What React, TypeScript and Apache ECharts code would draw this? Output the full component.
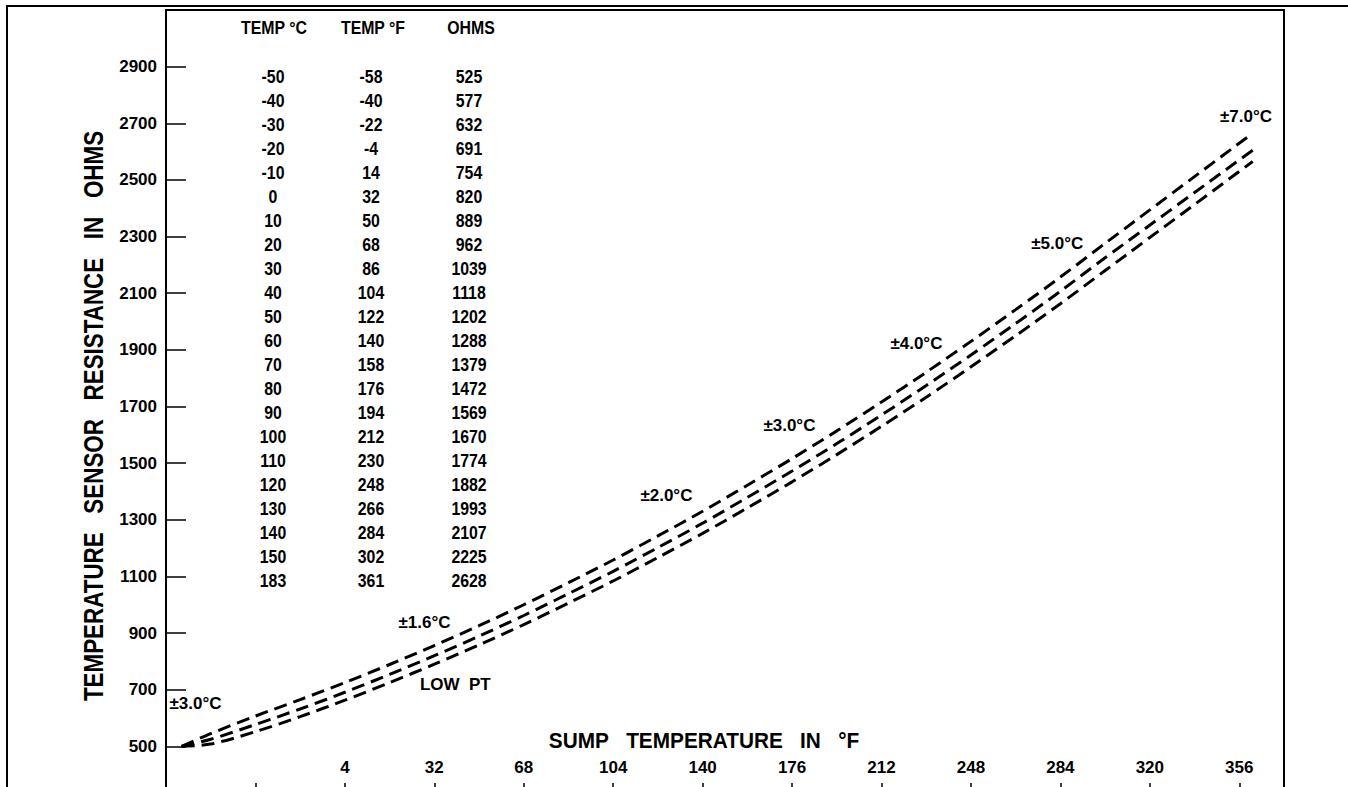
import React, { useEffect, useRef } from "react";
import * as echarts from "echarts";

// ---- table data (reference table) ----
const tableC = [-50, -40, -30, -20, -10, 0, 10, 20, 30, 40, 50, 60, 70, 80, 90, 100, 110, 120, 130, 140, 150, 183];
const tableF = [-58, -40, -22, -4, 14, 32, 50, 68, 86, 104, 122, 140, 158, 176, 194, 212, 230, 248, 266, 284, 302, 361];
const tableOhms = [525, 577, 632, 691, 754, 820, 889, 962, 1039, 1118, 1202, 1288, 1379, 1472, 1569, 1670, 1774, 1882, 1993, 2107, 2225, 2628];

// ---- curves (temperature in °C, resistance in ohms) ----
const curveC = [-56.5, -50, -40, -30, -20, -10, 0, 10, 20, 30, 40, 50, 60, 70, 80, 90, 100, 110, 120, 130, 140, 150, 183];
const upperOhms = [500, 545, 607, 665, 725, 789, 856, 926, 1000, 1078, 1158, 1243, 1330, 1422, 1516, 1614, 1716, 1821, 1930, 2042, 2157, 2276, 2665];
const nominalOhms = [500, 525, 577, 632, 691, 754, 820, 889, 962, 1039, 1118, 1202, 1288, 1379, 1472, 1569, 1670, 1774, 1882, 1993, 2107, 2225, 2605];
const lowerOhms = [500, 508, 552, 605, 663, 725, 790, 858, 930, 1006, 1084, 1167, 1252, 1342, 1434, 1530, 1630, 1733, 1840, 1950, 2063, 2180, 2565];

// ---- axis ticks ----
const xTickC = [-60, -40, -20, 0, 20, 40, 60, 80, 100, 120, 140, 160, 180];
const xTickLabelsF = ["", "", "4", "32", "68", "104", "140", "176", "212", "248", "284", "320", "356"];
const yTickLabels = [500, 700, 900, 1100, 1300, 1500, 1700, 1900, 2100, 2300, 2500, 2700, 2900];

// ---- tolerance notes ----
const noteTexts = ["±3.0°C", "±1.6°C", "LOW\u00a0\u00a0PT", "±2.0°C", "±3.0°C", "±4.0°C", "±5.0°C", "±7.0°C"];
const noteC = [-53.4, -2.2, 4.7, 51.9, 79.4, 107.8, 139.3, 181.5];
const noteOhms = [652, 938, 719, 1387, 1634, 1924, 2277, 2723];

const FONT = "'Liberation Sans', Arial, sans-serif";
const SP3 = "\u00a0\u00a0\u00a0";

export default function App() {
  const ref = useRef<HTMLDivElement>(null);

  useEffect(() => {
    if (!ref.current) return;
    const chart = echarts.init(ref.current, undefined, { renderer: "svg" });

    const textStyle = (text: string, size: number) => ({
      text,
      fontSize: size,
      fontFamily: FONT,
      fontWeight: "bold",
      fill: "#000",
      align: "center",
      verticalAlign: "middle",
      textAlign: "center",
      textVerticalAlign: "middle",
    });

    const graphics: any[] = [
      {
        type: "rect",
        shape: { x: 7, y: 6, width: 1500, height: 1000 },
        style: { fill: "none", stroke: "#000", lineWidth: 2 },
        silent: true,
      },
      {
        type: "text",
        x: 93,
        y: 416,
        rotation: Math.PI / 2,
        scaleX: 0.8,
        style: textStyle(["TEMPERATURE", "SENSOR", "RESISTANCE", "IN", "OHMS"].join(SP3), 28),
      },
      {
        type: "text",
        x: 704,
        y: 741,
        scaleX: 0.945,
        style: textStyle(["SUMP", "TEMPERATURE", "IN", "°F"].join(SP3), 22),
      },
      { type: "text", x: 274, y: 28, scaleX: 0.88, style: textStyle("TEMP °C", 18) },
      { type: "text", x: 373, y: 28, scaleX: 0.88, style: textStyle("TEMP °F", 18) },
      { type: "text", x: 471, y: 28, scaleX: 0.88, style: textStyle("OHMS", 18) },
    ];
    tableC.forEach((c, i) => {
      const y = 76.7 + i * 24;
      graphics.push({ type: "text", x: 273, y, scaleX: 0.88, style: textStyle(String(c), 18) });
      graphics.push({ type: "text", x: 371, y, scaleX: 0.88, style: textStyle(String(tableF[i]), 18) });
      graphics.push({ type: "text", x: 469, y, scaleX: 0.88, style: textStyle(String(tableOhms[i]), 18) });
    });

    const dashed = {
      color: "#000",
      width: 3,
      type: [13, 7] as any,
    };
    const mkLine = (vals: number[]) => ({
      type: "line",
      data: curveC.map((c, i) => [c, vals[i]]),
      showSymbol: false,
      symbol: "none",
      smooth: 0.3,
      lineStyle: dashed,
      silent: true,
    });

    chart.setOption({
      animation: false,
      backgroundColor: "#fff",
      grid: {
        left: 166,
        top: 10,
        width: 1118,
        height: 793,
        show: true,
        borderColor: "#000",
        borderWidth: 2,
        containLabel: false,
      },
      xAxis: {
        type: "value",
        min: -60,
        max: 190,
        interval: 20,
        axisLine: { show: true, onZero: false, lineStyle: { color: "#000", width: 2 } },
        axisTick: { show: true, inside: true, length: 20, lineStyle: { color: "#000", width: 1.5 } },
        splitLine: { show: false },
        axisLabel: {
          inside: true,
          margin: 27,
          color: "#000",
          fontFamily: FONT,
          fontWeight: "bold",
          fontSize: 17,
          formatter: (v: number) => {
            const idx = xTickC.indexOf(v);
            return idx >= 0 ? xTickLabelsF[idx] : "";
          },
        },
      },
      yAxis: {
        type: "value",
        min: 300,
        max: 3100,
        interval: 200,
        axisLine: { show: true, onZero: false, lineStyle: { color: "#000", width: 2 } },
        axisTick: { show: true, inside: true, length: 20, lineStyle: { color: "#000", width: 1.5 } },
        splitLine: { show: false },
        axisLabel: {
          margin: 9,
          color: "#000",
          fontFamily: FONT,
          fontWeight: "bold",
          fontSize: 17,
          formatter: (v: number) => (yTickLabels.indexOf(v) >= 0 ? String(v) : ""),
        },
      },
      series: [
        mkLine(upperOhms),
        mkLine(nominalOhms),
        mkLine(lowerOhms),
        {
          type: "scatter",
          symbolSize: 0,
          silent: true,
          itemStyle: { opacity: 1, color: "#000" },
          data: noteC.map((c, i) => ({ value: [c, noteOhms[i]], name: noteTexts[i] })),
          label: {
            show: true,
            position: "inside",
            formatter: (p: any) => p.name,
            color: "#000",
            opacity: 1,
            textBorderWidth: 0,
            fontFamily: FONT,
            fontWeight: "bold",
            fontSize: 17,
          },
        },
      ],
      graphic: graphics,
    });

    return () => chart.dispose();
  }, []);

  return (
    <div
      ref={ref}
      style={{ position: "fixed", left: 0, top: 0, width: 1348, height: 820, background: "#fff" }}
    />
  );
}
